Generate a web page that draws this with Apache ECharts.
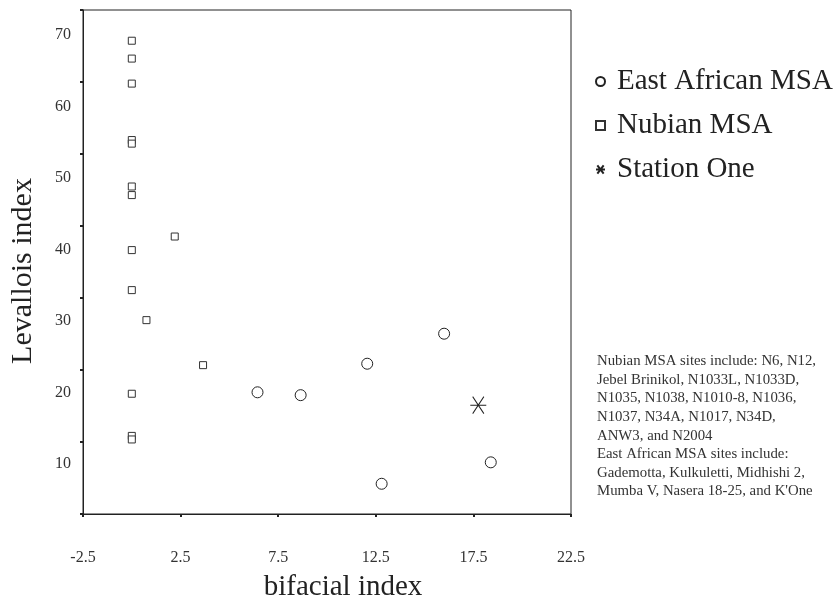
<!DOCTYPE html>
<html>
<head>
<meta charset="utf-8">
<title>Levallois vs bifacial index</title>
<script src="https://cdn.jsdelivr.net/npm/echarts@6/dist/echarts.min.js"></script>
<style>
  html, body { margin: 0; padding: 0; background: #fff; }
</style>
</head>
<body>
<div id="chart" style="width:835px; height:603px"></div>
<script>
// values (bifacial index, Levallois index)
var eastAfricanX = [6.44, 8.65, 12.06, 16.0, 12.8, 18.39]
var eastAfricanY = [20.0, 19.6, 24.0, 28.2, 7.2, 10.2]
var nubianX = [0, 0, 0, 0, 0, 0, 0, 2.2, 0, 0, 0.75, 3.65, 0, 0, 0]
var nubianY = [69.2, 66.7, 63.2, 55.3, 54.8, 48.8, 47.6, 41.8, 39.9, 34.3, 30.1, 23.8, 19.8, 13.9, 13.4]
var stationX = [17.75]
var stationY = [18.2]

var seriesNames = ['East African MSA', 'Nubian MSA', 'Station One']
var xTickLabels = [-2.5, 2.5, 7.5, 12.5, 17.5, 22.5]
var yTickLabels = [10, 20, 30, 40, 50, 60, 70]
var noteLines = [
  'Nubian MSA sites include: N6, N12,',
  'Jebel Brinikol, N1033L, N1033D,',
  'N1035, N1038, N1010-8, N1036,',
  'N1037, N34A, N1017, N34D,',
  'ANW3, and N2004',
  'East African MSA sites include:',
  'Gademotta, Kulkuletti, Midhishi 2,',
  "Mumba V, Nasera 18-25, and K'One"
]

function pairs (xs, ys) {
  return xs.map(function (x, i) { return [x, ys[i]] })
}

var font = 'Liberation Serif'
var ink = '#222'
// the y scale of the original: ticks and labels don't line up
var yMin = 2.97
var yMax = 73.5

var myChart = echarts.init(document.getElementById('chart'))
var option = {
  animation: false,
  backgroundColor: '#fff',
  textStyle: { fontFamily: font },
  grid: {
    left: 83,
    right: 264,
    top: 10,
    bottom: 89,
    containLabel: false,
    outerBoundsMode: 'none',
    show: true,
    borderColor: ink,
    borderWidth: 1
  },
  legend: {
    orient: 'vertical',
    left: 590,
    top: 57,
    itemWidth: 9,
    itemHeight: 9,
    itemGap: 5,
    textStyle: {
      fontFamily: font,
      fontSize: 29,
      lineHeight: 29,
      color: ink,
      padding: [0, 0, 10, 7]
    },
    data: seriesNames
  },
  xAxis: {
    type: 'value',
    min: xTickLabels[0],
    max: xTickLabels[xTickLabels.length - 1],
    interval: 5,
    name: 'bifacial index',
    nameLocation: 'middle',
    nameGap: 59,
    nameTextStyle: { fontFamily: font, fontSize: 29, color: ink, padding: [0, 0, 0, 32] },
    splitLine: { show: false },
    axisLine: { onZero: false, lineStyle: { color: ink, width: 1 } },
    axisTick: { show: true, inside: false, length: 3, lineStyle: { color: ink, width: 2 } },
    axisLabel: { color: '#333', fontFamily: font, fontSize: 16, margin: 36 }
  },
  yAxis: [
    {
      type: 'value',
      min: yMin,
      max: yMax,
      interval: (yMax - yMin) / 7,
      name: 'Levallois index',
      nameLocation: 'middle',
      nameGap: 45,
      nameTextStyle: { fontFamily: font, fontSize: 30, color: ink, padding: [0, 0, 0, -18] },
      splitLine: { show: false },
      axisLine: { onZero: false, lineStyle: { color: ink, width: 1 } },
      axisTick: { show: true, inside: false, length: 3, lineStyle: { color: ink, width: 2 } },
      axisLabel: { show: false }
    },
    {
      type: 'value',
      min: yMin,
      max: yMax,
      splitNumber: 7,
      position: 'left',
      splitLine: { show: false },
      axisLine: { show: false, onZero: false },
      axisTick: { show: false },
      axisLabel: {
        color: '#333',
        fontFamily: font,
        fontSize: 16,
        margin: 12,
        padding: [4, 0, 0, 0],
        showMinLabel: false,
        showMaxLabel: false,
        formatter: function (v) {
          return yTickLabels.indexOf(v) >= 0 ? String(v) : ''
        }
      }
    }
  ],
  graphic: [
    {
      type: 'text',
      left: 597,
      top: 352,
      style: {
        text: noteLines.join('\n'),
        fontFamily: font,
        fontSize: 14.8,
        lineHeight: 18.6,
        fill: '#333'
      }
    }
  ],
  series: [
    {
      name: seriesNames[0],
      type: 'scatter',
      symbol: 'circle',
      symbolSize: 11,
      itemStyle: { color: '#fff', borderColor: ink, borderWidth: 1, opacity: 1 },
      data: pairs(eastAfricanX, eastAfricanY)
    },
    {
      name: seriesNames[1],
      type: 'scatter',
      symbol: 'rect',
      symbolSize: 7,
      itemStyle: { color: '#fff', borderColor: '#333', borderWidth: 1, opacity: 1 },
      data: pairs(nubianX, nubianY)
    },
    {
      name: seriesNames[2],
      type: 'scatter',
      symbol: 'path://M0,10L20,10M3,1L17,19M17,1L3,19',
      symbolSize: [16, 17],
      itemStyle: { color: '#fff', borderColor: ink, borderWidth: 1, opacity: 1 },
      data: pairs(stationX, stationY)
    }
  ]
}
myChart.setOption(option)
</script>
</body>
</html>
